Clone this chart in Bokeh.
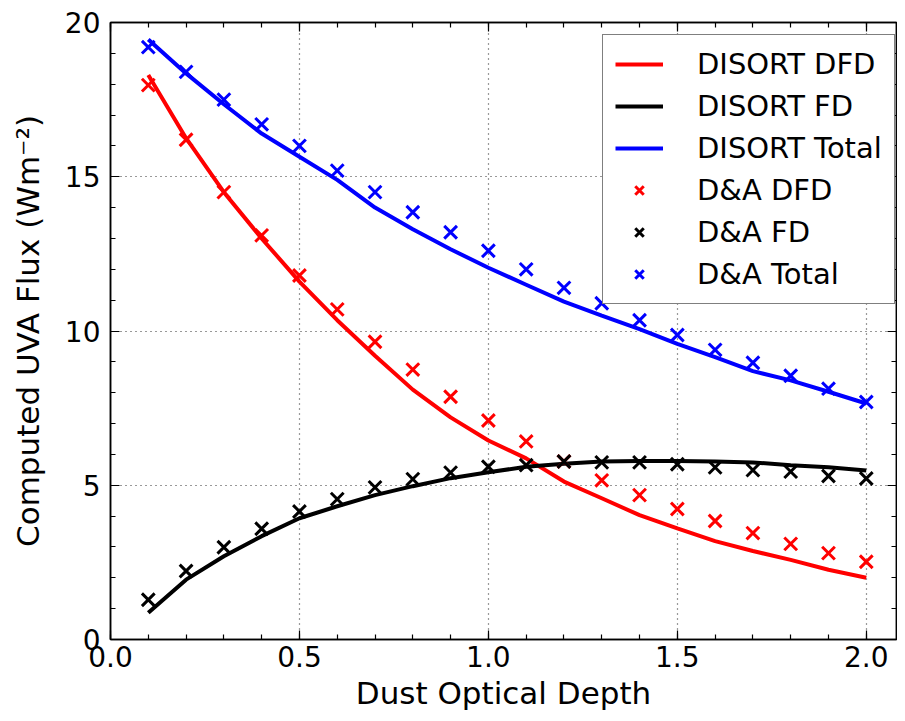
from bokeh.plotting import figure
from bokeh.models import (LinearAxis, Legend, LegendItem, Range1d, SingleIntervalTicker, Grid,
                          CustomJSTickFormatter)
from bokeh.embed import file_html
from bokeh.resources import INLINE

depth = [0.1, 0.2, 0.3, 0.4, 0.5, 0.6, 0.7, 0.8, 0.9, 1.0,
         1.1, 1.2, 1.3, 1.4, 1.5, 1.6, 1.7, 1.8, 1.9, 2.0]
disort_dfd = [18.3, 16.25, 14.5, 13.0, 11.6, 10.35, 9.2, 8.1, 7.2, 6.45,
              5.87, 5.12, 4.58, 4.03, 3.6, 3.19, 2.87, 2.58, 2.26, 2.0]
disort_fd = [0.87, 1.94, 2.7, 3.35, 3.93, 4.32, 4.68, 4.97, 5.23, 5.42,
             5.6, 5.7, 5.77, 5.79, 5.79, 5.77, 5.74, 5.65, 5.58, 5.48]
disort_total = [19.45, 18.35, 17.35, 16.4, 15.65, 14.9, 14.0, 13.3, 12.65, 12.05,
                11.5, 10.95, 10.5, 10.06, 9.58, 9.15, 8.7, 8.4, 8.03, 7.65]
da_dfd = [17.97, 16.2, 14.5, 13.1, 11.8, 10.7, 9.65, 8.75, 7.87, 7.1,
          6.42, 5.77, 5.16, 4.68, 4.23, 3.84, 3.45, 3.1, 2.8, 2.52]
da_fd = [1.29, 2.22, 2.99, 3.59, 4.15, 4.55, 4.93, 5.2, 5.41, 5.6,
         5.65, 5.77, 5.74, 5.74, 5.68, 5.58, 5.49, 5.44, 5.3, 5.22]
da_total = [19.2, 18.4, 17.5, 16.7, 16.0, 15.2, 14.5, 13.85, 13.2, 12.6,
            12.0, 11.4, 10.9, 10.35, 9.87, 9.39, 8.97, 8.55, 8.13, 7.7]

x_label = "Dust Optical Depth"
y_label = "Computed UVA Flux (Wm\u207b\u00b2)"

FONT = "DejaVu Sans"

p = figure(width=897, height=713, output_backend="svg", toolbar_location=None,
           x_range=Range1d(0, 2.08), y_range=Range1d(0, 20),
           min_border_left=110, min_border_right=1, min_border_top=22, min_border_bottom=71,
           x_axis_location=None, y_axis_location=None)
p.background_fill_color = "white"
p.border_fill_color = "white"
p.outline_line_color = "black"
p.outline_line_width = 1.5
p.grid.visible = False

def style_axis(ax, show_labels, label=None):
    ax.major_tick_in = 9
    ax.major_tick_out = 0
    ax.minor_tick_in = 5
    ax.minor_tick_out = 0
    ax.axis_line_width = 1.5
    ax.major_tick_line_width = 1.2
    ax.minor_tick_line_width = 1.2
    ax.axis_line_color = "black"
    ax.major_tick_line_color = "black"
    ax.minor_tick_line_color = "black"
    if show_labels:
        ax.major_label_text_font = FONT
        ax.major_label_text_font_size = "28px"
        ax.major_label_text_color = "black"
        ax.major_label_standoff = 6
        if label:
            ax.axis_label = label
            ax.axis_label_text_font = FONT
            ax.axis_label_text_font_size = "31px"
            ax.axis_label_text_font_style = "normal"
            ax.axis_label_text_color = "black"
            ax.axis_label_standoff = 5
    else:
        ax.major_label_text_font_size = "0px"
        ax.major_label_text_color = None
        ax.major_label_standoff = 0
        ax.axis_label_standoff = 0

xt = SingleIntervalTicker(interval=0.5, num_minor_ticks=5)
yt = SingleIntervalTicker(interval=5, num_minor_ticks=5)

bx = LinearAxis(ticker=xt)
style_axis(bx, True, x_label)
bx.formatter = CustomJSTickFormatter(code="return tick.toFixed(1);")
p.add_layout(bx, "below")

ly = LinearAxis(ticker=yt)
style_axis(ly, True, y_label)
ly.major_label_standoff = 10
ly.axis_label_standoff = 16
ly.formatter = CustomJSTickFormatter(code="return tick.toFixed(0);")
p.add_layout(ly, "left")

tx = LinearAxis(ticker=SingleIntervalTicker(interval=0.5, num_minor_ticks=5))
style_axis(tx, False)
p.add_layout(tx, "above")
ry = LinearAxis(ticker=SingleIntervalTicker(interval=5, num_minor_ticks=5))
style_axis(ry, False)
p.add_layout(ry, "right")

gx = Grid(dimension=0, ticker=xt, grid_line_color="black", grid_line_dash="1 4",
          grid_line_width=1.2, grid_line_alpha=0.8)
gy = Grid(dimension=1, ticker=yt, grid_line_color="black", grid_line_dash="1 4",
          grid_line_width=1.2, grid_line_alpha=0.8)
p.add_layout(gx)
p.add_layout(gy)

r1 = p.line(depth, disort_dfd, line_color="#ff0000", line_width=4)
r2 = p.line(depth, disort_fd, line_color="black", line_width=4)
r3 = p.line(depth, disort_total, line_color="#0000ff", line_width=4)
r4 = p.scatter(depth, da_dfd, marker="x", size=18, line_color="#ff0000", line_width=3)
r5 = p.scatter(depth, da_fd, marker="x", size=18, line_color="black", line_width=3)
r6 = p.scatter(depth, da_total, marker="x", size=18, line_color="#0000ff", line_width=3)

legend = Legend(items=[
    LegendItem(label="DISORT DFD", renderers=[r1]),
    LegendItem(label="DISORT FD", renderers=[r2]),
    LegendItem(label="DISORT Total", renderers=[r3]),
    LegendItem(label="D&A DFD", renderers=[r4]),
    LegendItem(label="D&A FD", renderers=[r5]),
    LegendItem(label="D&A Total", renderers=[r6]),
], location=(492, 335))
legend.label_text_font = FONT
legend.label_text_font_size = "29px"
legend.label_text_color = "black"
legend.glyph_width = 48
legend.glyph_height = 30
legend.label_height = 30
legend.spacing = 8
legend.padding = 12
legend.margin = 0
legend.label_standoff = 34
legend.border_line_color = "black"
legend.border_line_width = 1.5
legend.background_fill_color = "white"
legend.background_fill_alpha = 1.0
p.add_layout(legend)

open("out.html", "w").write(file_html(p, INLINE))
